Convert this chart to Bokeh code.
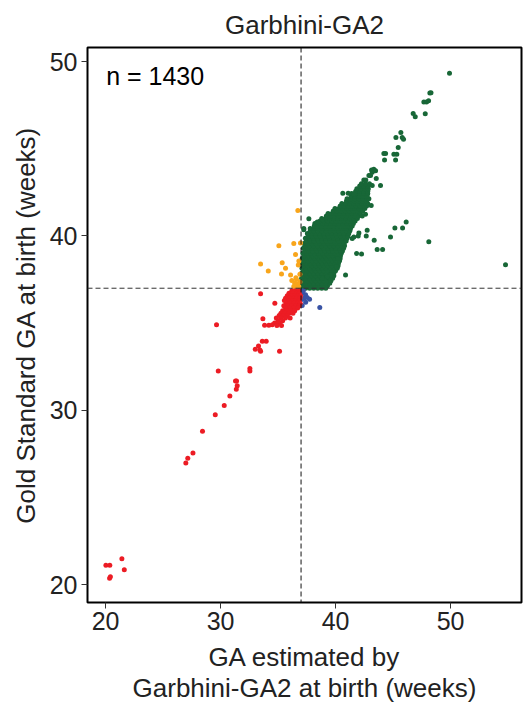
from bokeh.plotting import figure
from bokeh.models import Range1d, Span, Label, FixedTicker
from bokeh.embed import file_html
from bokeh.resources import INLINE

title_text = "Garbhini-GA2"
n_text = "n = 1430"
x_label = "GA estimated by\nGarbhini-GA2 at birth (weeks)"
y_label = "Gold Standard GA at birth (weeks)"
x_ticks = [20, 30, 40, 50]
y_ticks = [20, 30, 40, 50]
cutoff = 37

# term by both (green): dense core, rows of (x, y)
green_core = [
    (37.05, 37.00), (37.4, 37.00), (37.75, 37.00), (38.1, 37.00), (38.45, 37.00), (38.8, 37.00), (39.15, 37.00),
    (37.2, 37.14), (37.55, 37.14), (37.9, 37.14), (38.25, 37.14), (38.6, 37.14), (38.95, 37.14), (39.3, 37.14),
    (37.05, 37.29), (37.4, 37.29), (37.75, 37.29), (38.1, 37.29), (38.45, 37.29), (38.8, 37.29), (39.15, 37.29), (39.5, 37.29),
    (37.2, 37.43), (37.55, 37.43), (37.9, 37.43), (38.25, 37.43), (38.6, 37.43), (38.95, 37.43), (39.3, 37.43), (39.6, 37.43),
    (37.05, 37.57), (37.4, 37.57), (37.75, 37.57), (38.1, 37.57), (38.45, 37.57), (38.8, 37.57), (39.15, 37.57), (39.5, 37.57), (39.75, 37.57),
    (37.2, 37.71), (37.55, 37.71), (37.9, 37.71), (38.25, 37.71), (38.6, 37.71), (38.95, 37.71), (39.3, 37.71), (39.65, 37.71), (39.85, 37.71),
    (37.05, 37.86), (37.4, 37.86), (37.75, 37.86), (38.1, 37.86), (38.45, 37.86), (38.8, 37.86), (39.15, 37.86), (39.5, 37.86), (39.85, 37.86),
    (37.2, 38.00), (37.55, 38.00), (37.9, 38.00), (38.25, 38.00), (38.6, 38.00), (38.95, 38.00), (39.3, 38.00), (39.65, 38.00), (40.0, 38.00),
    (37.08, 38.14), (37.43, 38.14), (37.78, 38.14), (38.13, 38.14), (38.48, 38.14), (38.83, 38.14), (39.18, 38.14), (39.53, 38.14), (39.88, 38.14), (40.15, 38.14),
    (37.25, 38.29), (37.6, 38.29), (37.95, 38.29), (38.3, 38.29), (38.65, 38.29), (39.0, 38.29), (39.35, 38.29), (39.7, 38.29), (40.05, 38.29), (40.22, 38.29),
    (37.1, 38.43), (37.45, 38.43), (37.8, 38.43), (38.15, 38.43), (38.5, 38.43), (38.85, 38.43), (39.2, 38.43), (39.55, 38.43), (39.9, 38.43), (40.25, 38.43),
    (37.27, 38.57), (37.62, 38.57), (37.97, 38.57), (38.32, 38.57), (38.67, 38.57), (39.02, 38.57), (39.37, 38.57), (39.72, 38.57), (40.07, 38.57), (40.35, 38.57),
    (37.1, 38.71), (37.45, 38.71), (37.8, 38.71), (38.15, 38.71), (38.5, 38.71), (38.85, 38.71), (39.2, 38.71), (39.55, 38.71), (39.9, 38.71), (40.25, 38.71), (40.4, 38.71),
    (37.28, 38.86), (37.63, 38.86), (37.98, 38.86), (38.33, 38.86), (38.68, 38.86), (39.03, 38.86), (39.38, 38.86), (39.73, 38.86), (40.08, 38.86), (40.43, 38.86),
    (37.15, 39.00), (37.5, 39.00), (37.85, 39.00), (38.2, 39.00), (38.55, 39.00), (38.9, 39.00), (39.25, 39.00), (39.6, 39.00), (39.95, 39.00), (40.3, 39.00), (40.5, 39.00),
    (37.33, 39.14), (37.68, 39.14), (38.03, 39.14), (38.38, 39.14), (38.73, 39.14), (39.08, 39.14), (39.43, 39.14), (39.78, 39.14), (40.13, 39.14), (40.48, 39.14), (40.6, 39.14),
    (37.2, 39.29), (37.55, 39.29), (37.9, 39.29), (38.25, 39.29), (38.6, 39.29), (38.95, 39.29), (39.3, 39.29), (39.65, 39.29), (40.0, 39.29), (40.35, 39.29), (40.7, 39.29),
    (37.38, 39.43), (37.73, 39.43), (38.08, 39.43), (38.43, 39.43), (38.78, 39.43), (39.13, 39.43), (39.48, 39.43), (39.83, 39.43), (40.18, 39.43), (40.53, 39.43), (40.78, 39.43),
    (37.25, 39.57), (37.6, 39.57), (37.95, 39.57), (38.3, 39.57), (38.65, 39.57), (39.0, 39.57), (39.35, 39.57), (39.7, 39.57), (40.05, 39.57), (40.4, 39.57), (40.75, 39.57),
    (37.45, 39.71), (37.8, 39.71), (38.15, 39.71), (38.5, 39.71), (38.85, 39.71), (39.2, 39.71), (39.55, 39.71), (39.9, 39.71), (40.25, 39.71), (40.6, 39.71), (40.92, 39.71),
    (37.38, 39.86), (37.73, 39.86), (38.08, 39.86), (38.43, 39.86), (38.78, 39.86), (39.13, 39.86), (39.48, 39.86), (39.83, 39.86), (40.18, 39.86), (40.53, 39.86), (40.88, 39.86), (41.0, 39.86),
    (37.63, 40.00), (37.98, 40.00), (38.33, 40.00), (38.68, 40.00), (39.03, 40.00), (39.38, 40.00), (39.73, 40.00), (40.08, 40.00), (40.43, 40.00), (40.78, 40.00), (41.08, 40.00),
    (37.55, 40.14), (37.9, 40.14), (38.25, 40.14), (38.6, 40.14), (38.95, 40.14), (39.3, 40.14), (39.65, 40.14), (40.0, 40.14), (40.35, 40.14), (40.7, 40.14), (41.05, 40.14), (41.15, 40.14),
    (37.8, 40.29), (38.15, 40.29), (38.5, 40.29), (38.85, 40.29), (39.2, 40.29), (39.55, 40.29), (39.9, 40.29), (40.25, 40.29), (40.6, 40.29), (40.95, 40.29), (41.25, 40.29),
    (37.8, 40.43), (38.15, 40.43), (38.5, 40.43), (38.85, 40.43), (39.2, 40.43), (39.55, 40.43), (39.9, 40.43), (40.25, 40.43), (40.6, 40.43), (40.95, 40.43), (41.3, 40.43),
    (38.15, 40.57), (38.5, 40.57), (38.85, 40.57), (39.2, 40.57), (39.55, 40.57), (39.9, 40.57), (40.25, 40.57), (40.6, 40.57), (40.95, 40.57), (41.3, 40.57), (41.45, 40.57),
    (38.2, 40.71), (38.55, 40.71), (38.9, 40.71), (39.25, 40.71), (39.6, 40.71), (39.95, 40.71), (40.3, 40.71), (40.65, 40.71), (41.0, 40.71), (41.35, 40.71), (41.55, 40.71),
    (38.65, 40.86), (39.0, 40.86), (39.35, 40.86), (39.7, 40.86), (40.05, 40.86), (40.4, 40.86), (40.75, 40.86), (41.1, 40.86), (41.45, 40.86), (41.7, 40.86),
    (38.8, 41.00), (39.15, 41.00), (39.5, 41.00), (39.85, 41.00), (40.2, 41.00), (40.55, 41.00), (40.9, 41.00), (41.25, 41.00), (41.6, 41.00), (41.9, 41.00),
    (39.2, 41.14), (39.55, 41.14), (39.9, 41.14), (40.25, 41.14), (40.6, 41.14), (40.95, 41.14), (41.3, 41.14), (41.65, 41.14), (42.0, 41.14),
    (39.35, 41.29), (39.7, 41.29), (40.05, 41.29), (40.4, 41.29), (40.75, 41.29), (41.1, 41.29), (41.45, 41.29), (41.8, 41.29), (42.15, 41.29),
    (39.8, 41.43), (40.15, 41.43), (40.5, 41.43), (40.85, 41.43), (41.2, 41.43), (41.55, 41.43), (41.9, 41.43), (42.25, 41.43), (42.35, 41.43),
    (39.95, 41.57), (40.3, 41.57), (40.65, 41.57), (41.0, 41.57), (41.35, 41.57), (41.7, 41.57), (42.05, 41.57), (42.4, 41.57), (42.55, 41.57),
    (40.4, 41.71), (40.75, 41.71), (41.1, 41.71), (41.45, 41.71), (41.8, 41.71), (42.15, 41.71), (42.5, 41.71), (42.7, 41.71),
    (40.55, 41.86), (40.9, 41.86), (41.25, 41.86), (41.6, 41.86), (41.95, 41.86), (42.3, 41.86), (42.65, 41.86), (42.8, 41.86),
    (40.95, 42.00), (41.3, 42.00), (41.65, 42.00), (42.0, 42.00), (42.35, 42.00), (42.7, 42.00),
    (41.0, 42.14), (41.35, 42.14), (41.7, 42.14), (42.05, 42.14), (42.4, 42.14), (42.75, 42.14), (42.9, 42.14),
    (41.35, 42.29), (41.7, 42.29), (42.05, 42.29), (42.4, 42.29), (42.75, 42.29),
    (41.4, 42.43), (41.75, 42.43), (42.1, 42.43), (42.45, 42.43), (42.8, 42.43),
    (41.75, 42.57), (42.1, 42.57), (42.45, 42.57), (42.8, 42.57),
    (41.85, 42.71), (42.2, 42.71), (42.55, 42.71), (42.85, 42.71),
    (42.1, 42.86), (42.45, 42.86), (42.8, 42.86),
    (42.25, 43.00), (42.6, 43.00), (42.95, 43.00),
]

# term by both (green): scattered points
green_extra = [
    (49.91, 49.33), (48.2, 48.2), (48.3, 48.22), (47.68, 47.69), (47.91, 47.69), (48.09, 47.75),
    (46.75, 47.03), (46.93, 46.84), (47.8, 47.01), (45.68, 45.94), (45.25, 45.64), (45.8, 45.64),
    (45.91, 45.55), (45.45, 45.07), (44.2, 44.73), (44.35, 44.73), (45.07, 44.69), (45.33, 44.69),
    (44.26, 44.35), (45.22, 44.35), (43.13, 43.78), (43.33, 43.83), (43.48, 43.74), (43.19, 43.65),
    (42.46, 43.21), (42.63, 43.21), (42.9, 43.46), (43.04, 43.46), (43.54, 43.3), (43.19, 42.89),
    (43.91, 42.89), (40.63, 42.45), (41.1, 42.45), (41.59, 42.41), (43.1, 41.75), (42.6, 41.24),
    (42.32, 41.14), (37.68, 40.99), (38.41, 40.8), (38.84, 40.93), (39.22, 41.08), (42.75, 40.32),
    (45.16, 40.46), (45.83, 40.46), (46.14, 40.8), (44.78, 39.94), (43.36, 39.75), (37.24, 40.36),
    (48.11, 39.66), (43.62, 39.22), (44.09, 39.22), (54.78, 38.35), (42.03, 40.17), (41.83, 38.99),
    (42.26, 38.96), (40.87, 37.76), (40.09, 38.23), (40.2, 38.71), (39.57, 37.76), (38.84, 37.57),
    (39.28, 37.66), (41.97, 40.0), (42.67, 40.0), (41.59, 39.94), (41.45, 39.85), (37.24, 40.42),
]

# preterm by both (red)
red_pts = [
    (20.03, 21.1), (20.37, 21.1), (21.42, 21.48), (21.63, 20.85), (20.35, 20.36), (20.42, 20.45),
    (26.98, 26.98), (27.15, 27.25), (27.6, 27.55), (28.43, 28.8), (29.54, 29.74), (30.32, 30.27),
    (30.81, 30.81), (29.65, 34.91), (29.8, 32.25), (31.3, 31.68), (31.39, 31.68), (31.45, 31.4),
    (31.37, 31.2), (32.55, 32.4), (32.55, 32.25), (33.02, 33.5), (33.3, 33.68), (33.42, 33.45),
    (33.48, 33.39), (35.13, 33.39), (33.63, 33.96), (33.97, 33.96), (33.83, 34.87), (34.2, 34.87),
    (34.5, 34.9), (33.68, 35.25), (34.72, 36.14), (33.48, 36.68),
    (36.2, 36.86), (36.5, 36.86), (36.8, 36.86),
    (35.95, 36.71), (36.3, 36.71), (36.6, 36.71), (36.85, 36.71),
    (35.8, 36.57), (36.15, 36.57), (36.45, 36.57), (36.75, 36.57), (36.95, 36.57),
    (35.65, 36.43), (36.0, 36.43), (36.35, 36.43), (36.65, 36.43), (36.9, 36.43),
    (35.55, 36.29), (35.9, 36.29), (36.25, 36.29), (36.55, 36.29), (36.85, 36.29),
    (35.7, 36.14), (36.05, 36.14), (36.4, 36.14), (36.7, 36.14), (36.92, 36.14),
    (35.5, 36.0), (35.85, 36.0), (36.2, 36.0), (36.55, 36.0), (36.85, 36.0),
    (35.65, 35.86), (36.0, 35.86), (36.35, 35.86), (36.7, 35.86),
    (35.4, 35.71), (35.75, 35.71), (36.1, 35.71), (36.45, 35.71),
    (35.25, 35.57), (35.6, 35.57), (35.95, 35.57), (36.3, 35.57),
    (35.1, 35.43), (35.45, 35.43), (35.8, 35.43),
    (34.85, 35.29), (35.25, 35.29), (35.65, 35.29), (36.05, 35.29),
    (35.0, 35.14), (35.4, 35.14),
    (34.7, 35.0), (35.1, 35.0),
    (34.9, 34.86), (35.3, 34.86),
]

# estimated preterm, gold standard term (orange)
orange_pts = [
    (36.72, 41.46), (35.07, 39.43), (36.37, 39.56), (36.95, 39.6), (33.48, 38.39), (34.15, 37.99),
    (35.36, 38.46), (35.65, 38.14), (35.3, 37.82), (36.52, 38.94), (36.81, 38.56), (36.76, 38.33),
    (36.09, 37.76), (36.45, 37.29), (36.66, 37.23), (36.8, 37.1), (36.37, 37.1), (36.75, 37.02),
    (36.9, 37.35), (36.6, 37.5), (36.2, 37.45), (36.55, 37.6), (36.9, 37.8),
]

# estimated term, gold standard preterm (blue)
blue_pts = [
    (37.1, 36.71), (37.39, 36.62), (37.53, 36.47), (37.25, 36.43), (37.1, 36.01), (37.74, 36.37),
    (38.63, 35.9), (37.4, 36.2), (37.05, 36.35), (37.2, 36.86),
]

GREEN = "#186737"
RED = "#ec1c24"
ORANGE = "#f8a51b"
BLUE = "#3953a4"
FONT = "Liberation Sans"
TXT = "#222222"

p = figure(width=523, height=706, output_backend="svg", toolbar_location=None,
           x_range=Range1d(18.43, 56.17), y_range=Range1d(18.97, 50.81),
           min_border_left=87, min_border_right=2, min_border_top=44,
           min_border_bottom=103, title=title_text)
p.title.align = "center"
p.title.text_font = FONT
p.title.text_font_size = "26px"
p.title.text_font_style = "normal"
p.title.text_color = TXT
p.title.standoff = 15

p.grid.visible = False
p.outline_line_color = "black"
p.outline_line_width = 2
p.outline_line_alpha = 1
p.background_fill_color = "white"
p.border_fill_color = "white"

p.xaxis.ticker = FixedTicker(ticks=x_ticks)
p.yaxis.ticker = FixedTicker(ticks=y_ticks)
for ax in (p.xaxis, p.yaxis):
    ax.axis_line_color = None
    ax.major_tick_out = 6
    ax.major_tick_in = 0
    ax.minor_tick_line_color = None
    ax.major_tick_line_color = "#333333"
    ax.major_tick_line_width = 1
    ax.major_label_text_font = FONT
    ax.major_label_text_font_size = "25px"
    ax.major_label_text_color = TXT
    ax.axis_label_text_font = FONT
    ax.axis_label_text_font_size = "26px"
    ax.axis_label_text_font_style = "normal"
    ax.axis_label_text_color = TXT
p.xaxis.major_label_standoff = 3
p.yaxis.major_label_standoff = 4
p.xaxis.axis_label = x_label
p.xaxis.axis_label_standoff = 9
p.xaxis.axis_label_text_line_height = 1.06
p.yaxis.axis_label = y_label
p.yaxis.axis_label_standoff = 6

def xs(pts):
    return [a for a, b in pts]

def ys(pts):
    return [b for a, b in pts]

green_all = green_core + green_extra
p.scatter(xs(green_all), ys(green_all), size=5, color=GREEN, line_color=None)
p.scatter(xs(orange_pts), ys(orange_pts), size=5, color=ORANGE, line_color=None)
p.scatter(xs(blue_pts), ys(blue_pts), size=5, color=BLUE, line_color=None)
p.scatter(xs(red_pts), ys(red_pts), size=5, color=RED, line_color=None)

p.add_layout(Span(location=cutoff, dimension="height", line_color="#111111",
                  line_width=1, line_dash="5 3"))
p.add_layout(Span(location=cutoff, dimension="width", line_color="#333333",
                  line_width=1, line_dash="5 3"))

p.add_layout(Label(x=20.05, y=49.16, text=n_text, text_font=FONT, text_font_size="25px",
                   text_color="black", text_baseline="middle", text_align="left"))

open("out.html", "w").write(file_html(p, INLINE))
